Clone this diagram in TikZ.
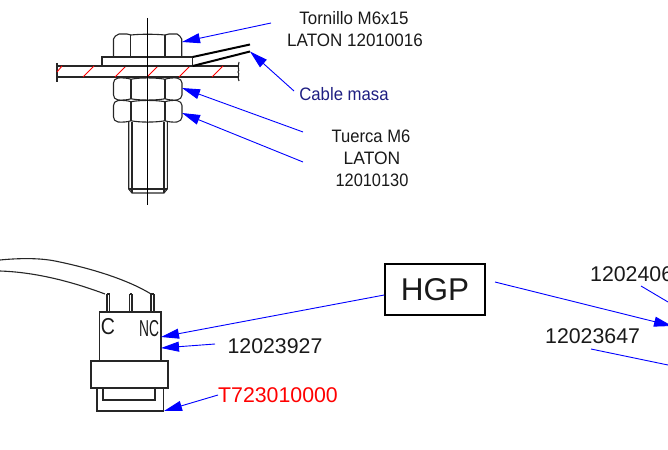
\documentclass[tikz,border=0pt]{standalone}
\usepackage{fontspec}
\setmainfont{Liberation Sans}
\usetikzlibrary{arrows.meta}
\tikzset{
  lead/.style={draw=blue,line width=0.9pt,-{Triangle[length=18pt,width=10pt]}},
  leadplain/.style={draw=blue,line width=0.9pt},
  part/.style={draw=black!85,line width=1.1pt},
  hatchline/.style={draw=red,line width=0.9pt},
  lab/.style={inner sep=0pt,font=\fontsize{18}{20}\selectfont,text=black!90},
  bigl/.style={inner sep=0pt,font=\fontsize{21.3}{23}\selectfont,text=black!90},
}
\newcommand{\hexnutTop}[2]{%
  \draw[part] (113.5,#2) -- (113.5,#1+5) .. controls (114,#1+3) and (116,#1+1) .. (119,#1)
    -- (127,#1) -- (131,#1+1) .. controls (140,#1) and (155,#1) .. (165,#1+1) -- (169,#1) -- (177,#1)
    .. controls (179,#1+1) and (181,#1+3) .. (181.7,#1+5) -- (181.7,#2);
  \draw[part] (130.7,#1+1) -- (130.7,#2) (165,#1+1) -- (165,#2);
}
\newcommand{\hexnutLow}[2]{%
  \draw[part] (118,#1) .. controls (123,#1-0.3) and (127,#1) .. (131,#1+1.2)
     .. controls (140,#1-0.5) and (155,#1-0.5) .. (165,#1+1.2)
     .. controls (169,#1) and (173,#1-0.3) .. (177,#1)
     .. controls (180,#1+0.7) and (182,#1+2.5) .. (182,#1+5)
     -- (182,#2-5)
     .. controls (182,#2-2.5) and (180,#2-0.7) .. (177,#2)
     .. controls (173,#2+0.3) and (169,#2) .. (165,#2-1.2)
     .. controls (155,#2+0.5) and (140,#2+0.5) .. (131,#2-1.2)
     .. controls (127,#2) and (123,#2+0.3) .. (118,#2)
     .. controls (115,#2-0.7) and (113.5,#2-2.5) .. (113.5,#2-5)
     -- (113.5,#1+5)
     .. controls (113.5,#1+2.5) and (115,#1+0.7) .. (118,#1) -- cycle;
  \draw[part] (131,#1+1.2) -- (131,#2-1.2) (165,#1+1.2) -- (165,#2-1.2);
}
\begin{document}
\begin{tikzpicture}[x=1pt,y=-1pt]
\useasboundingbox (0,0) rectangle (668,449);
\clip (0,0) rectangle (668,449);
% plate
\draw[part] (57,66) -- (239,66) (57,77) -- (239,77);
\draw[part] (57,63) -- (57,82);
\draw[part] (239,62) .. controls (237,68) and (240,70) .. (238,72) .. controls (240,74) and (237,78) .. (239,81);
\foreach \a/\b/\c/\d in {57/72/62/66,83/77/94/66,115/77/126/66,147/77/158/66,179/77/190/66,212/77/223/66}
  \draw[hatchline] (\a,\b) -- (\c,\d);
% washer and head
\draw[part] (102,57) rectangle (192.7,66);
\hexnutTop{34}{57}
% nuts
\hexnutLow{78}{100}
\hexnutLow{100.5}{122}
% shank
\draw[part] (128.7,122) -- (128.7,189) -- (132,193) -- (164,193) -- (167.3,189) -- (167.3,122);
\draw[part] (132,122) -- (132,193) (164,122) -- (164,193);
\draw[part] (128.7,189) -- (167.3,189);
% axis
\draw[black,line width=0.9pt] (147.5,18) -- (147.5,205);
% cable
\coordinate (cabA) at (250,44.5);
\coordinate (cabB) at (250,51.5);
\draw[black,line width=2pt] (192.7,57) -- (cabA) (192.7,66) -- (cabB);
% top labels
\node[lab,xscale=.94] (tor) at (354,18) {Tornillo M6x15};
\node[lab,xscale=.945] (lat) at (355,40) {LATON 12010016};
\node[lab,xscale=.93,text={rgb,255:red,30;green,30;blue,130}] (cab) at (344,94) {Cable masa};
\node[lab,xscale=.92] (tu1) at (371,136) {Tuerca M6};
\node[lab,xscale=.97] (tu2) at (372,158) {LATON};
\node[lab,xscale=.91] (tu3) at (372,180) {12010130};
\coordinate (s1) at (271,23);   \coordinate (e1) at (182,42);
\coordinate (s2) at (294,91);
\coordinate (s3) at (303,132);  \coordinate (e3) at (182,88);
\coordinate (s4) at (303,162);  \coordinate (e4) at (182,113);
\draw[lead] (s1) -- (e1);
\draw[lead] (s2) -- (cabB);
\draw[lead] (s3) -- (e3);
\draw[lead] (s4) -- (e4);
% switch
\draw[part] (99.5,312) rectangle (161,361);
\draw[part] (91,361) rectangle (168,388);
\draw[part] (97,388) rectangle (163.5,411);
\draw[part] (103,388) -- (103,400) -- (155,400) -- (155,388);
\draw[part] (107,294) -- (107,312) (109.5,294) -- (109.5,312);
\draw[part] (129.5,294) -- (129.5,312) (132,294) -- (132,312);
\draw[part] (151,294) -- (151,312) (154,294) -- (154,312);
\draw[part] (107,294) -- (109.5,294) (129.5,294) -- (132,294) (151,294) -- (154,294);
\draw[part] (0,260) .. controls (20,258) and (40,258) .. (55,261) .. controls (85,267) and (125,278) .. (151,294);
\draw[part] (0,271) .. controls (30,272) and (65,279) .. (105,294);
\node[inner sep=0pt,font=\fontsize{23}{24}\selectfont,text=black!90,xscale=.85] (cc) at (108,327) {C};
\node[inner sep=0pt,font=\fontsize{23}{24}\selectfont,text=black!90,xscale=.6] (nc) at (149,329) {NC};
% HGP
\node[draw=black,line width=1.5pt,minimum width=100pt,minimum height=51pt,inner sep=0pt,font=\fontsize{31.5}{33}\selectfont,text=black!90] (hgp) at (435,289.5) {HGP};
\coordinate (e5) at (161,337);
\coordinate (s6) at (215,344);  \coordinate (e6) at (161,348);
\coordinate (s7) at (218,395);  \coordinate (e7) at (164,411);
\draw[lead] (hgp.west |- 0,295) -- (e5);
\draw[lead] (s6) -- (e6);
\draw[lead] (s7) -- (e7);
\node[bigl] (n1) at (275,346) {12023927};
\node[bigl,text=red] (n2) at (278,395) {T723010000};
\node[bigl,anchor=west] (n3) at (590,274) {1202406};
\node[bigl,anchor=west] (n4) at (545,336) {12023647};
\coordinate (s8) at (495,282);  \coordinate (e8) at (672,326);
\coordinate (s9) at (641,286);  \coordinate (e9) at (668,302);
\coordinate (s10) at (591,349); \coordinate (e10) at (668,365);
\draw[lead] (s8) -- (e8);
\draw[leadplain] (s9) -- (e9);
\draw[leadplain] (s10) -- (e10);
\end{tikzpicture}
\end{document}
